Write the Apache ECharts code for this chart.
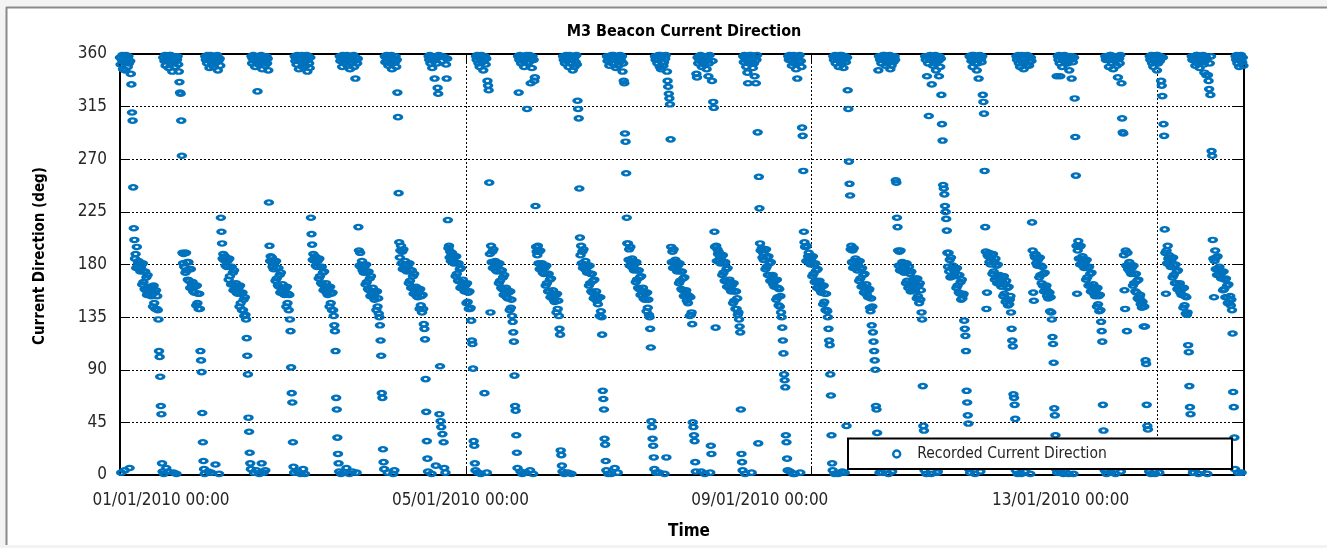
<!DOCTYPE html>
<html>
<head>
<meta charset="utf-8">
<script src="https://cdn.jsdelivr.net/npm/echarts@6/dist/echarts.min.js"></script>
<style>
html,body{margin:0;padding:0;background:#f3f3f3;}
#chart{width:1327px;height:548px;}
</style>
</head>
<body>
<div id="chart"></div>
<script>
// ---- DATA ----
// Recorded current direction (deg), one sample every 10 minutes, one array per day starting 00:00.
const sampleMinutes = 10;
const dir_2010_01_01 = [
357,351,2,355,359,347, 353,358,4,346,359,355, 356,349,358,352,6,354, 343,334,310,303,246,211,
201,185,189,177,195,178, 181,183,176,179,174,178, 180,163,181,165,174,159, 174,158,169,154,171,155,
159,161,154,158,153,158, 161,144,162,147,156,142, 158,142,153,141,133,106, 101,84,59,52,10,3,
357,1,354,359,350,6, 355,358,3,348,356,359, 359,352,357,345,354,2, 353,358,349,356,1,355,
358,351,345,336,327,326, 303,273,190,181,189,178, 190,173,190,175,182,167, 182,166,176,160,176,160,
163,165,157,161,156,161, 162,145,162,147,155,142, 155,142,106,98,88,53, 28,12,5,1,358,355];
const dir_2010_01_02 = [
357,352,359,3,355,348, 356,359,2,351,357,354, 349,355,358,9,353,357, 359,346,354,1,356,350,
220,208,198,185,189,184, 184,187,179,183,178,183, 184,167,185,170,178,163, 178,163,173,158,175,158,
162,164,156,160,155,160, 161,144,162,147,155,141, 156,141,150,136,152,137, 133,117,102,86,49,37,
19,10,5,358,352,356, 359,2,354,349,357,4, 355,328,358,351,1,356, 353,359,10,347,355,2,
357,350,4,354,358,352, 356,346,233,196,183,187, 183,186,178,182,176,181, 182,166,183,168,177,162,
177,161,171,156,173,157, 160,163,155,159,154,159, 160,144,161,147,155,141, 154,133,123,92,70,62];
const dir_2010_01_03 = [
28,7,2,358,354,357, 351,359,3,355,347,358, 356,1,353,359,349,5, 354,357,1,350,356,359,
345,355,358,352,348,357, 220,206,197,184,189,184, 184,187,179,183,178,183, 184,168,185,170,178,164,
178,163,173,158,174,159, 161,164,156,160,154,159, 161,144,161,147,155,141, 156,141,136,128,123,106,
66,56,32,18,10,3, 358,354,1,357,349,359, 355,2,358,352,356,6, 359,350,354,357,1,347,
356,358,352,3,355,359, 349,354,339,357,2,352, 356,212,192,179,190,178, 180,183,175,179,173,178,
179,163,180,165,173,159, 174,158,168,153,170,154, 157,160,152,156,150,156, 157,141,157,144,151,138];
const dir_2010_01_04 = [
135,128,115,102,70,66, 22,11,5,358,353,357, 359,354,2,350,356,358, 352,357,359,347,355,1,
356,4,353,358,349,355, 327,306,241,199,186,192, 196,181,191,176,193,177, 180,183,175,179,174,179,
180,164,181,166,175,160, 175,160,170,155,172,156, 159,161,153,157,152,157, 159,142,159,145,153,139,
154,142,129,125,116,82, 54,29,14,3,358,355, 359,352,357,1,348,356, 354,358,339,355,8,357,
352,331,326,359,52,93, 46,41,354,35,358,28, 6,357,2,351,339,356, 218,194,196,186,191,183,
188,190,182,186,181,186, 187,170,187,172,181,166, 181,166,176,160,177,161, 164,167,159,162,157,162];
const dir_2010_01_05 = [
163,147,164,148,156,142, 157,142,143,132,115,112, 91,29,25,10,4,358, 355,359,2,352,357,349,
356,1,359,353,358,346, 354,70,358,351,356,2, 337,333,329,250,189,139, 196,182,191,177,193,177,
181,183,175,179,174,179, 181,164,181,166,175,160, 175,159,169,154,171,155, 158,160,152,156,151,156,
157,141,157,143,150,136, 131,122,114,85,59,55, 34,19,6,358,327,355, 359,3,352,357,1,354,
356,349,358,355,2,359, 313,352,357,353,359,4, 335,356,348,358,1,355, 337,340,230,195,191,188,
196,181,191,176,192,176, 179,181,173,177,172,177, 178,162,179,164,172,157, 172,157,167,152,168,152];
const dir_2010_01_06 = [
155,158,150,154,148,154, 154,139,155,142,149,136, 125,120,21,17,8,3, 358,355,1,352,357,359,
354,358,2,349,356,359, 352,357,1,355,346,358, 356,349,358,353,359,351, 320,313,305,245,203,188,
196,181,191,177,193,177, 180,183,175,179,173,178, 179,162,179,164,172,157, 172,156,166,151,167,151,
154,157,149,152,146,152, 152,136,152,140,135,120, 72,65,56,31,26,12, 4,358,354,1,357,350,
358,355,1,359,352,356, 359,352,6,355,348,358, 356,2,350,357,354,359, 357,354,358,345,352,337,
335,292,285,258,220,198, 198,184,193,179,195,179, 183,185,177,181,175,180, 181,165,182,167,175,160];
const dir_2010_01_07 = [
175,159,169,154,170,154, 157,160,151,156,150,155, 156,140,156,143,150,137, 135,125,109,46,41,31,
25,15,5,358,355,2, 358,352,355,359,2,349, 359,347,357,353,358,350, 353,1,356,359,15,345,
337,332,326,322,317,287, 195,182,191,177,193,177, 182,184,176,180,174,179, 181,164,181,166,174,159,
174,158,168,153,169,153, 156,158,149,154,147,152, 153,136,152,137,139,129, 45,41,34,29,11,3,
343,340,357,352,358,355, 354,359,3,349,356,358, 356,351,1,358,354,347, 358,355,341,352,359,2,
25,18,337,354,319,314, 208,195,126,196,183,193, 189,191,183,187,181,186, 188,171,188,173,181,166];
const dir_2010_01_08 = [
182,166,176,161,177,161, 165,167,159,163,157,162, 164,147,164,149,157,142, 157,142,151,137,139,133,
127,122,56,18,11,4, 358,353,359,1,355,349, 358,344,335,356,352,359, 356,359,2,353,348,357,
352,341,357,335,355,359, 293,27,255,228,198,192, 192,194,186,190,184,189, 193,176,193,178,186,171,
187,171,181,166,182,166, 169,171,163,167,161,166, 167,150,167,152,160,145, 159,144,153,139,135,126,
115,104,86,81,75,34, 28,14,4,358,355,359, 3,358,355,350,357,1, 359,352,1,356,347,358,
339,356,358,353,359,2, 354,349,297,290,260,208, 199,195,195,183,196,183, 187,190,182,186,180,185];
const dir_2010_01_09 = [
187,170,187,172,180,165, 181,166,175,160,176,160, 164,166,158,162,156,161, 162,146,162,148,155,141,
155,141,140,135,125,115, 111,86,68,34,10,4, 358,355,1,359,352,357, 358,355,1,349,356,359,
357,352,359,3,354,348, 356,2,358,353,42,357, 329,313,268,249,239,193, 196,182,192,177,194,178,
183,185,177,181,175,180, 183,166,183,168,176,161, 177,162,171,156,172,157, 160,163,154,159,152,158,
159,143,140,151,128,144, 122,114,106,98,90,59, 56,36,8,346,358,2, 355,358,352,2,357,359,
355,359,4,350,356,358, 352,357,1,354,359,347, 356,350,3,358,353,357, 358,355,252,250,220,212];
const dir_2010_01_10 = [
192,179,191,175,192,175, 180,182,174,178,173,178, 181,164,181,166,175,160, 178,162,172,157,174,158,
165,167,159,163,158,163, 168,151,168,153,162,147, 164,150,158,139,133,76, 42,38,4,358,355,1,
341,358,352,307,356,359, 355,1,334,357,350,358, 357,352,359,346,355,2, 3,354,341,358,349,356,
325,300,286,248,245,240, 230,225,219,209,190,178, 190,174,184,169,186,170, 177,179,171,175,170,175,
177,160,177,162,171,156, 171,155,165,150,167,151, 154,155,132,125,119,106, 72,62,51,44,5,358,
2,357,354,359,349,355, 359,355,1,352,357,346, 352,358,339,356,359,3, 356,353,358,325,319,309];
const dir_2010_01_11 = [
260,212,191,142,156,188, 187,190,182,186,180,185, 189,172,189,174,182,167, 185,169,179,164,180,164,
169,171,163,167,161,166, 170,153,170,155,163,148, 166,150,160,145,161,146, 150,153,139,125,115,110,
69,66,60,48,4,358, 355,1,359,352,357,349, 355,1,359,353,358,347, 352,357,3,356,350,359,
356,358,350,354,1,357, 354,216,192,156,149,188, 186,189,181,185,179,184, 186,169,186,171,179,164,
178,162,172,157,173,157, 159,162,153,157,151,156, 156,140,152,139,133,118, 112,96,57,51,34,5,
341,2,358,355,359,352, 341,2,358,349,356,1, 355,359,5,352,357,354, 352,357,1,346,358,355];
const dir_2010_01_12 = [
356,339,358,353,1,357, 322,289,256,196,155,192, 200,185,195,180,196,180, 185,187,179,183,177,182,
184,167,184,169,177,162, 178,162,172,157,173,157, 161,163,155,159,153,158, 160,144,160,146,153,140,
154,141,131,123,114,60, 38,12,4,358,355,1, 4,358,355,349,357,359, 359,2,352,356,347,358,
357,354,1,358,350,356, 340,358,356,352,359,3, 335,305,293,292,188,158, 142,192,179,123,190,176,
180,182,174,178,172,177, 179,162,179,164,172,157, 172,156,166,151,167,150, 152,154,146,149,143,148,
144,127,144,127,98,95, 60,42,39,8,3,358, 355,1,359,352,357,349, 358,355,1,353,359,346];
const dir_2010_01_13 = [
359,352,356,2,354,358, 337,333,324,357,300,290, 210,190,155,192,181,196, 185,188,180,184,178,183,
186,169,186,171,179,164, 180,164,174,159,175,159, 162,164,156,160,154,159, 160,143,160,145,153,138,
152,137,139,111,105,76, 58,52,6,358,355,2, 2,358,355,350,357,359, 359,352,1,355,348,357,
356,4,357,353,359,351, 344,354,358,342,356,1, 342,337,330,352,325,358, 277,273,201,185,152,183,
192,176,186,171,187,171, 176,178,170,174,168,173, 174,158,174,159,167,152, 168,152,162,147,163,147,
150,153,145,150,141,121, 71,58,32,5,358,355, 359,352,2,356,349,358, 355,359,2,353,357,350];

const dailyDirections = [dir_2010_01_01, dir_2010_01_02, dir_2010_01_03, dir_2010_01_04, dir_2010_01_05,
  dir_2010_01_06, dir_2010_01_07, dir_2010_01_08, dir_2010_01_09, dir_2010_01_10, dir_2010_01_11,
  dir_2010_01_12, dir_2010_01_13];

// x tick labels as printed on the original chart (position in hours since 01/01/2010 00:00)
const xTickLabels = ['01/01/2010 00:00', '05/01/2010 00:00', '09/01/2010 00:00', '13/01/2010 00:00'];
const xTickLabelHours = [11.4, 94.5, 177.6, 261.1];
const yTicks = [0, 45, 90, 135, 180, 225, 270, 315, 360];
const seriesName = 'Recorded Current Direction';

// ---- BUILD ----
const points = [];
dailyDirections.forEach(function (arr, d) {
  arr.forEach(function (v, j) {
    points.push([d * 24 + j * sampleMinutes / 60, v]);
  });
});

const FONT = '"Liberation Sans Narrow", "Arial Narrow", "DejaVu Sans Condensed", sans-serif';
const BLUE = '#0072BD';
const ELLIPSE = 'path://M0,5A5,5,0,1,0,10,5A5,5,0,1,0,0,5Z';

const chart = echarts.init(document.getElementById('chart'), null, {renderer: 'canvas'});

const option = {
  backgroundColor: '#f3f3f3',
  animation: false,
  title: {
    text: 'M3 Beacon Current Direction',
    left: 679, top: 19, textAlign: 'center',
    textStyle: {fontFamily: FONT, fontSize: 16, fontWeight: 'bold', color: '#000'}
  },
  grid: {left: 120, top: 54, width: 1124, height: 421, containLabel: false},
  graphic: [
    {type: 'rect', z: -10, silent: true, shape: {x: 6, y: 7, width: 1330, height: 538}, style: {fill: '#ffffff'}},
    {type: 'line', z: -9, silent: true, shape: {x1: 6, y1: 7.5, x2: 1327, y2: 7.5}, style: {stroke: '#8a8a8a', lineWidth: 2}},
    {type: 'line', z: -9, silent: true, shape: {x1: 6.5, y1: 7, x2: 6.5, y2: 545}, style: {stroke: '#8a8a8a', lineWidth: 2}},
    {type: 'rect', z: 3, silent: true, shape: {x: 848, y: 438.5, width: 384, height: 30.5}, style: {fill: '#ffffff', stroke: '#000', lineWidth: 2}}
  ],
  legend: {
    show: true,
    left: 848, top: 444,
    padding: [0, 0, 0, 44],
    itemWidth: 9, itemHeight: 7,
    data: [{name: seriesName, icon: ELLIPSE, itemStyle: {color: 'rgba(0,0,0,0)', borderColor: BLUE, borderWidth: 2.4}}],
    textStyle: {fontFamily: FONT, fontSize: 15.5, color: '#262626', lineHeight: 20, padding: [0, 0, 0, 11]}
  },
  xAxis: [
    {
      type: 'value', min: 0, max: 312, interval: 96, position: 'bottom',
      axisLine: {show: true, onZero: false, lineStyle: {color: '#000', width: 2}},
      axisTick: {show: true, inside: true, length: 8, lineStyle: {color: '#000', width: 1}},
      axisLabel: {show: false},
      splitLine: {show: true, lineStyle: {color: '#000', width: 1, type: [2, 2]}}
    },
    {
      type: 'value', min: 0, max: 312, position: 'bottom',
      axisLine: {show: false}, axisTick: {show: false}, splitLine: {show: false},
      axisLabel: {
        show: true, customValues: xTickLabelHours, margin: 17,
        fontFamily: FONT, fontSize: 17, color: '#262626',
        formatter: function (v) {
          for (let i = 0; i < xTickLabelHours.length; i++) {
            if (Math.abs(xTickLabelHours[i] - v) < 0.01) return xTickLabels[i];
          }
          return '';
        }
      },
      name: 'Time', nameLocation: 'middle', nameGap: 48,
      nameTextStyle: {fontFamily: FONT, fontSize: 17, fontWeight: 'bold', color: '#000', padding: [0, 0, 0, 14]}
    },
    {
      type: 'value', min: 0, max: 312, interval: 96, position: 'top',
      axisLine: {show: true, onZero: false, lineStyle: {color: '#000', width: 2}},
      axisTick: {show: true, inside: true, length: 8, lineStyle: {color: '#000', width: 1}},
      axisLabel: {show: false}, splitLine: {show: false}
    }
  ],
  yAxis: [
    {
      type: 'value', min: yTicks[0], max: yTicks[yTicks.length - 1], interval: 45, position: 'left',
      axisLine: {show: true, onZero: false, lineStyle: {color: '#000', width: 2}},
      axisTick: {show: true, inside: true, length: 10, lineStyle: {color: '#000', width: 1}},
      axisLabel: {show: true, margin: 13, fontFamily: FONT, fontSize: 17, color: '#262626'},
      splitLine: {show: true, lineStyle: {color: '#000', width: 1, type: [2, 2]}},
      name: 'Current Direction (deg)', nameLocation: 'middle', nameGap: 72, nameRotate: 90,
      nameTextStyle: {fontFamily: FONT, fontSize: 15, fontWeight: 'bold', color: '#000', padding: [0, 0, 0, 17]}
    },
    {
      type: 'value', min: yTicks[0], max: yTicks[yTicks.length - 1], interval: 45, position: 'right',
      axisLine: {show: true, onZero: false, lineStyle: {color: '#000', width: 2}},
      axisTick: {show: true, inside: true, length: 10, lineStyle: {color: '#000', width: 1}},
      axisLabel: {show: false}, splitLine: {show: false}
    }
  ],
  series: [{
    name: seriesName,
    type: 'scatter',
    xAxisIndex: 0, yAxisIndex: 0,
    symbol: ELLIPSE,
    symbolSize: [7, 4.4],
    clip: false,
    itemStyle: {color: 'rgba(0,0,0,0)', borderColor: BLUE, borderWidth: 2.8, opacity: 1},
    data: points,
    z: 2
  }]
};
chart.setOption(option);
</script>
</body>
</html>
